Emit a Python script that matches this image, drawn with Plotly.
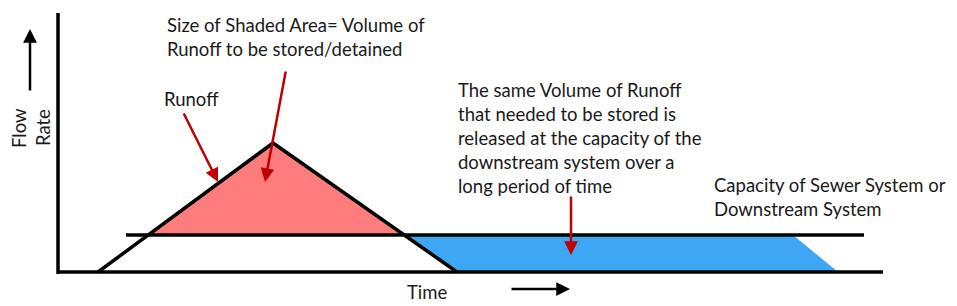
import plotly.graph_objects as go

# ---- data (time units ~ px along the diagram, flow units ~ px upward) ----
hydro_time = [98, 273, 457]          # runoff hydrograph: start, peak, end
hydro_flow = [0, 129, 0]
capacity_flow = 37                   # capacity of downstream system
capacity_time = [126, 864]           # extent of capacity line
release_end_time = [793, 838]        # end of release (top, bottom)
axis_time = [58, 883]                # time axis extent
axis_flow = [-2, 259]                # flow axis extent

FONT = "Lato"
FS = 18.5
RED = "#c00000"
BLACK = "#000000"

def cross(t0, f0, t1, f1, f):
    return t0 + (f - f0) * (t1 - t0) / (f1 - f0)

t_in = cross(hydro_time[0], hydro_flow[0], hydro_time[1], hydro_flow[1], capacity_flow)
t_out = cross(hydro_time[1], hydro_flow[1], hydro_time[2], hydro_flow[2], capacity_flow)

fig = go.Figure()

# red stored volume
fig.add_trace(go.Scatter(
    x=[t_in, hydro_time[1], t_out, t_in],
    y=[capacity_flow, hydro_flow[1], capacity_flow, capacity_flow],
    fill="toself", fillcolor="#ff7c7c", line=dict(width=0), mode="lines",
    hoverinfo="skip", showlegend=False))

# blue released volume
fig.add_trace(go.Scatter(
    x=[t_out, hydro_time[2], release_end_time[1], release_end_time[0], t_out],
    y=[capacity_flow, 0, 0, capacity_flow, capacity_flow],
    fill="toself", fillcolor="#3ea7f3", line=dict(width=0), mode="lines",
    hoverinfo="skip", showlegend=False))

# axes lines
fig.add_trace(go.Scatter(x=[axis_time[0], axis_time[0]], y=[axis_flow[1], axis_flow[0]],
                         mode="lines", line=dict(color=BLACK, width=3.5),
                         hoverinfo="skip", showlegend=False))
fig.add_trace(go.Scatter(x=[axis_time[0], axis_time[1]], y=[0, 0],
                         mode="lines", line=dict(color=BLACK, width=3.5),
                         hoverinfo="skip", showlegend=False))
# capacity line
fig.add_trace(go.Scatter(x=capacity_time, y=[capacity_flow, capacity_flow],
                         mode="lines", line=dict(color=BLACK, width=3.5),
                         hoverinfo="skip", showlegend=False))
# hydrograph
fig.add_trace(go.Scatter(x=hydro_time, y=hydro_flow,
                         mode="lines", line=dict(color=BLACK, width=3.5),
                         hoverinfo="skip", showlegend=False))

annotations = []

def text(x, y, s, angle=0, xanchor="left"):
    annotations.append(dict(x=x, y=y, text=s, showarrow=False, xanchor=xanchor,
                            yanchor="middle", align="left", textangle=angle,
                            font=dict(family=FONT, size=FS, color="#1a1a1a")))

def arrow(x0, y0, x1, y1, color):
    annotations.append(dict(x=x1, y=y1, ax=x0, ay=y0, axref="x", ayref="y",
                            xref="x", yref="y", text="", showarrow=True,
                            arrowhead=2, arrowsize=1.1, arrowwidth=2.5,
                            arrowcolor=color, standoff=0, startstandoff=0))

text(165, 235, "Size of Shaded Area= Volume of<br>Runoff to be stored/detained")
text(162, 173, "Runoff")
text(456, 134.5, "The same Volume of Runoff<br>that needed to be stored is<br>"
                 "released at the capacity of the<br>downstream system over a<br>"
                 "long period of time")
text(712, 75.5, "Capacity of Sewer System or<br>Downstream System")
text(427, -20, "Time", xanchor="center")
text(19, 144, "Flow", angle=-90, xanchor="center")
text(43, 144, "Rate", angle=-90, xanchor="center")

arrow(183, 160, 218, 90, RED)
arrow(286, 202, 265, 90, RED)
arrow(571, 77, 571, 17, RED)
arrow(30, 180, 30, 243, BLACK)
arrow(510, -17, 570, -17, BLACK)

# page body has an 8px margin: shift ranges so the diagram lands where the reference has it
fig.update_layout(
    width=957, height=306,
    margin=dict(l=0, r=0, t=0, b=0),
    paper_bgcolor="white", plot_bgcolor="white",
    xaxis=dict(range=[8, 965], visible=False, fixedrange=True),
    yaxis=dict(range=[-42, 264], visible=False, fixedrange=True),
    annotations=annotations,
)

fig.write_html("out.html")
